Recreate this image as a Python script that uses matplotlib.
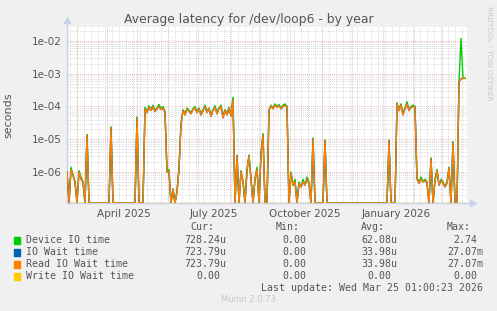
import numpy as np
import matplotlib
matplotlib.use('Agg')
import matplotlib.pyplot as plt

# 하루 단위(2일 간격) 샘플, 0일 = 2025-02-18
days = list(range(0, 400, 2))

device_io = [
    1.0e-6, 0, 1.4e-6, 8e-7, 5e-7, 0, 1.1e-6, 7e-7, 5e-7, 0, 1.4e-5, 0,
    0, 0, 0, 0, 0, 0, 0, 0, 0, 0,
    2.4e-5,
    0, 0, 0, 0, 0, 0, 0, 0, 0, 0, 0, 0,
    4.8e-5,
    0, 0, 0,
    9.5e-5, 7e-5, 1.05e-4, 8e-5, 1.1e-4, 7.5e-5, 9e-5, 1.15e-4, 8.5e-5, 1e-4, 7e-5,
    1.1e-6, 1.2e-6, 0, 3e-7, 0, 2.5e-7, 1.4e-6, 3e-5,
    8e-5, 6e-5, 9e-5, 7.5e-5, 6.5e-5, 8.5e-5, 1e-4, 7e-5, 9e-5, 6e-5,
    8e-5, 1.1e-4, 7e-5, 9e-5, 5.5e-5, 8e-5, 1.05e-4, 6.5e-5, 9e-5, 1.1e-4,
    5e-5, 8e-5, 6e-5, 9.5e-5, 5.5e-5,
    1.9e-4,
    0, 3.3e-6, 0, 1.1e-6, 5e-7, 0, 1.2e-6, 3.3e-6, 6e-7, 0, 6.5e-7, 1.4e-6, 0, 3.7e-6, 1.5e-5, 0, 0,
    8e-5, 1.1e-4, 9e-5, 1.2e-4, 1e-4, 1.15e-4, 9e-5, 1.1e-4, 1.2e-4, 1e-4,
    0, 1.0e-6, 4e-7, 6e-7, 0, 5e-7, 3.5e-7, 6e-7, 4e-7, 7e-7, 5e-7, 0,
    1.1e-5,
    0, 0, 0, 0, 0,
    9.5e-6,
    0, 0, 0, 0, 0, 0, 0, 0, 0, 0, 0, 0, 0, 0, 0, 0,
    0, 0, 0, 0, 0, 0, 0, 0, 0, 0, 0, 0, 0, 0, 0,
    9.5e-6,
    0, 0, 0,
    1.3e-4, 8e-5, 1.2e-4, 6e-5, 9e-5, 1.4e-4, 8e-5, 1e-4, 1.1e-4, 1e-4,
    6.5e-7, 5e-7, 7e-7, 5e-7, 6e-7, 5e-7, 0, 2.7e-6, 0, 6e-7, 1.2e-6,
    4e-7, 6e-7, 5e-7, 3.5e-7, 5e-7, 1.4e-6, 0, 8.5e-6, 0, 0,
    5.6e-4, 1.2e-2, 7.3e-4, 7.3e-4,
]

read_wait = [
    1.0e-6, 0, 1.2e-6, 8e-7, 5e-7, 0, 1.0e-6, 6e-7, 5e-7, 0, 1.3e-5, 0,
    0, 0, 0, 0, 0, 0, 0, 0, 0, 0,
    2.2e-5,
    0, 0, 0, 0, 0, 0, 0, 0, 0, 0, 0, 0,
    4.5e-5,
    0, 0, 0,
    8.5e-5, 6.5e-5, 9.5e-5, 7.5e-5, 1.0e-4, 7e-5, 8.5e-5, 1.0e-4, 8e-5, 9e-5, 6.5e-5,
    1.0e-6, 1.0e-6, 0, 3e-7, 0, 2.5e-7, 1.2e-6, 2.8e-5,
    7.5e-5, 5.5e-5, 8.5e-5, 7e-5, 6e-5, 8e-5, 9e-5, 6.5e-5, 8.5e-5, 5.5e-5,
    7.5e-5, 1.0e-4, 6.5e-5, 8.5e-5, 5e-5, 7.5e-5, 9.5e-5, 6e-5, 8.5e-5, 1.0e-4,
    4.5e-5, 7.5e-5, 5.5e-5, 9e-5, 5e-5,
    1.6e-4,
    0, 3.1e-6, 0, 1.0e-6, 5e-7, 0, 1.1e-6, 3.1e-6, 6e-7, 0, 6e-7, 1.2e-6, 0, 3.4e-6, 1.3e-5, 0, 0,
    7.5e-5, 1.05e-4, 8.5e-5, 1.1e-4, 9.5e-5, 1.05e-4, 8.5e-5, 1.0e-4, 1.1e-4, 9.5e-5,
    0, 9e-7, 4e-7, 5e-7, 0, 4.5e-7, 3.5e-7, 5e-7, 4e-7, 6e-7, 4.5e-7, 0,
    1.0e-5,
    0, 0, 0, 0, 0,
    9e-6,
    0, 0, 0, 0, 0, 0, 0, 0, 0, 0, 0, 0, 0, 0, 0, 0,
    0, 0, 0, 0, 0, 0, 0, 0, 0, 0, 0, 0, 0, 0, 0,
    9e-6,
    0, 0, 0,
    1.2e-4, 7.5e-5, 1.1e-4, 5.5e-5, 8.5e-5, 1.2e-4, 7.5e-5, 9.5e-5, 1.0e-4, 9.5e-5,
    6e-7, 4.5e-7, 6e-7, 5e-7, 5.5e-7, 4.5e-7, 0, 2.5e-6, 0, 5.5e-7, 1.1e-6,
    4e-7, 5.5e-7, 4.5e-7, 3.5e-7, 4.5e-7, 1.3e-6, 0, 8e-6, 0, 0,
    5.5e-4, 7.0e-4, 7.2e-4, 7.2e-4,
]

io_wait = list(read_wait)          # 범례상 IO Wait == Read IO Wait
write_wait = [0.0] * len(days)     # 쓰기 대기 시간은 전 구간 0

month_days = [10, 40, 70, 101, 131, 163, 193, 223, 255, 285, 316, 347, 375]
label_days = [57, 147, 238, 329]
label_names = ['April 2025', 'July 2025', 'October 2025', 'January 2026']

legend_names = ['Device IO time', 'IO Wait time', 'Read IO Wait time', 'Write IO Wait time']
cur_vals = ['728.24u', '723.79u', '723.79u', '0.00']
min_vals = ['0.00', '0.00', '0.00', '0.00']
avg_vals = ['62.08u', '33.98u', '33.98u', '0.00']
max_vals = ['2.74', '27.07m', '27.07m', '0.00']
colors = ['#00CC00', '#0066B3', '#FF8000', '#FFCC00']

W, H = 497, 311
YMIN, YMAX = 1.13e-7, 2.67e-2

fig = plt.figure(figsize=(W / 100, H / 100), dpi=100, facecolor='#F0F0F0')
ax = fig.add_axes([67 / W, 1 - 203 / H, 400 / W, 176 / H])
ax.set_facecolor('white')
ax.set_yscale('log')
ax.set_xlim(0, 400)
ax.set_ylim(YMIN, YMAX)

# 그리드
for d in range(3, 400, 7):
    ax.axvline(d, color='#cccccc', lw=0.6, ls=(0, (1, 1.5)), zorder=0)
for d in month_days:
    ax.axvline(d, color='#e4a6a6', lw=0.6, ls=(0, (1, 1.5)), zorder=0)
for e in range(-7, -1):
    for m in range(2, 10):
        v = m * 10.0 ** e
        if YMIN < v < YMAX:
            ax.axhline(v, color='#cccccc', lw=0.6, ls=(0, (1, 1.5)), zorder=0)
for e in range(-6, -1):
    ax.axhline(10.0 ** e, color='#e4a6a6', lw=0.6, ls=(0, (1, 1.5)), zorder=0)

x = np.array(days)
for vals, c in zip([device_io, io_wait, read_wait, write_wait], colors):
    y = np.array(vals, dtype=float)
    y = np.where(y > 0, y, YMIN)
    ax.plot(x, y, color=c, lw=1.0, zorder=3)

for s in ax.spines.values():
    s.set_visible(False)
ax.plot([0, 0], [0, 1.03], transform=ax.transAxes, color='#c8d0ea', lw=1, clip_on=False)
ax.plot([0, 1.01], [0, 0], transform=ax.transAxes, color='#c8d0ea', lw=1, clip_on=False)
ax.plot([0], [1.04], transform=ax.transAxes, marker='^', color='#c8d0ea', ms=5, clip_on=False)
ax.plot([1.015], [0], transform=ax.transAxes, marker='>', color='#c8d0ea', ms=5, clip_on=False)

ax.set_yticks([1e-6, 1e-5, 1e-4, 1e-3, 1e-2])
ax.set_yticklabels(['1e-06', '1e-05', '1e-04', '1e-03', '1e-02'])
ax.yaxis.set_minor_locator(matplotlib.ticker.NullLocator())
ax.set_xticks(label_days)
ax.set_xticklabels(label_names)
ax.tick_params(length=0, labelsize=7.5, colors='#555555', pad=4)
ax.set_ylabel('seconds', fontsize=8, color='#555555', labelpad=13)

fig.text(248.5 / W, 1 - 19 / H, 'Average latency for /dev/loop6 - by year',
         ha='center', va='center', fontsize=8.9, color='#555555')
fig.text(489 / W, 1 - 6 / H, 'RRDTOOL / TOBI OETIKER', rotation=270,
         ha='center', va='top', fontsize=5.3, color='#c8c8c8')

# 범례 표
mono = dict(family='DejaVu Sans Mono', fontsize=7.1, color='#555555', va='center')
cw = 5.95
col_edges = [226, 312, 397, 483]
for name, edge in zip(['Cur:', 'Min:', 'Avg:', 'Max:'], col_edges):
    fig.text((edge - 2 * cw) / W, 1 - 227 / H, name, ha='right', **mono)
rows_y = [240, 252, 264, 276]
for i in range(4):
    yy = 1 - rows_y[i] / H
    fig.patches.append(plt.Rectangle(((14) / W, yy - 3.5 / H), 6 / W, 7 / H,
                                     transform=fig.transFigure, color=colors[i]))
    fig.text(26 / W, yy, legend_names[i], ha='left', **mono)
    for vals, edge in zip([cur_vals, min_vals, avg_vals, max_vals], col_edges):
        s = vals[i]
        e = edge if s[-1].isalpha() else edge - cw
        fig.text(e / W, yy, s, ha='right', **mono)
fig.text(483 / W, 1 - 288 / H, 'Last update: Wed Mar 25 01:00:23 2026', ha='right', **mono)
fig.text(248 / W, 1 - 300 / H, 'Munin 2.0.73', ha='center', va='center',
         fontsize=6, color='#c8c8c8')

fig.savefig('out.png', dpi=100, facecolor=fig.get_facecolor())
